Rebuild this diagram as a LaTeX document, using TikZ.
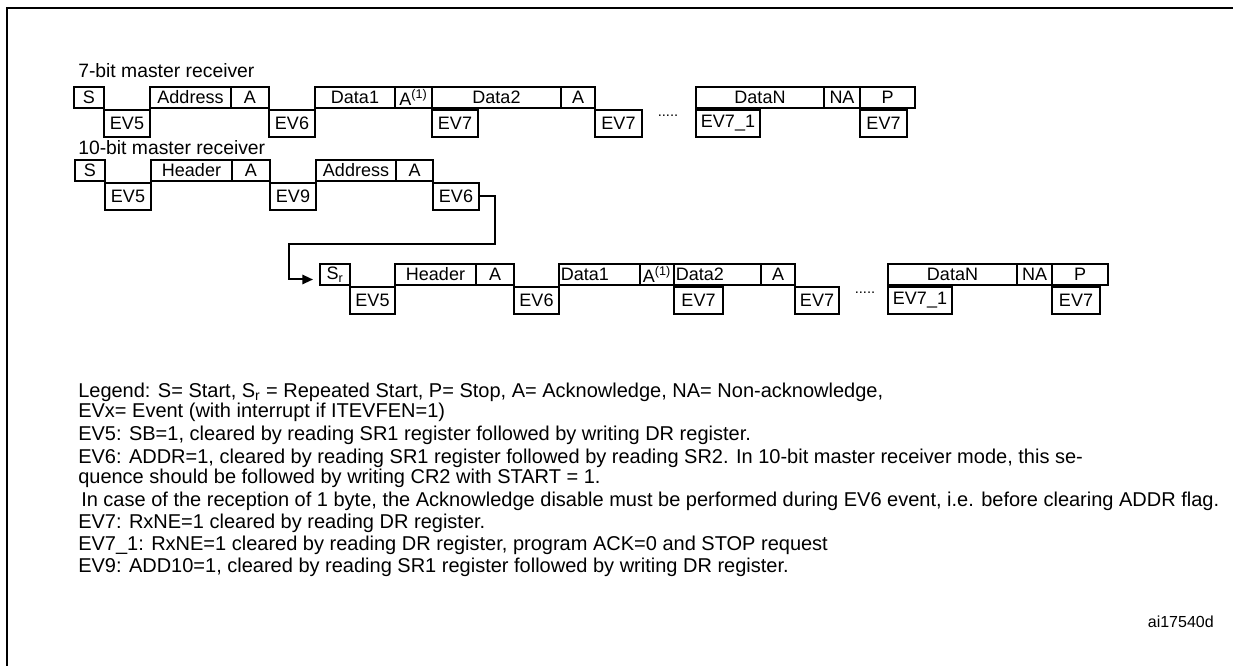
\documentclass[tikz,border=0pt]{standalone}
\usepackage{fontspec}
\setmainfont{Liberation Sans}
\usetikzlibrary{arrows.meta,positioning}

\begin{document}
\begin{tikzpicture}[
      x=0.75pt, y=-0.75pt,
      cell/.style={draw, line width=1.5pt, inner sep=0pt, font=\fontsize{13.5}{15}\selectfont},
      hicell/.style={cell, anchor=south west, minimum height=15.75pt},
      locell/.style={cell, anchor=north west, minimum height=20.25pt},
      wd/.style={minimum width=#1*0.75pt},
      lefttext/.style={label={[anchor=west, inner sep=2pt, font=\fontsize{13.5}{15}\selectfont]west:#1}},
      caption/.style={anchor=west, inner sep=0pt, font=\fontsize{14.5}{16}\selectfont},
      legend/.style={anchor=west, inner sep=0pt, font=\fontsize{15}{17}\selectfont},
      dots/.style={inner sep=0pt, font=\fontsize{11}{12}\selectfont},
      link/.style={line width=1.5pt, -{Triangle[length=8pt, width=7pt]}}
    ]
    \useasboundingbox (0,0) rectangle (1233,666);
    % frame
    \draw[line width=2.2pt] (6,8) -- (1233,8);
    \draw[line width=1.1pt] (7,8) -- (7,666);

    % 7-bit master receiver
    \node[caption] (cap7) at (78,71) {7-bit master receiver};
    \node[hicell, wd=30]  (s7)    at (73,109)  {S};
    \node[locell, wd=46]  (ev5a)  at (103,109) {EV5};
    \node[hicell, wd=81]  (adr7)  at (149,109) {Address};
    \node[hicell, wd=38]  (ack7a) at (230,109) {A};
    \node[locell, wd=46]  (ev6a)  at (268,109) {EV6};
    \node[hicell, wd=80]  (d1a)   at (314,109) {Data1};
    \node[hicell, wd=37]  (ack7b) at (394,109) {A\textsuperscript{(1)}};
    \node[hicell, wd=129] (d2a)   at (431,109) {Data2};
    \node[locell, wd=46]  (ev7a)  at (431,109) {EV7};
    \node[hicell, wd=34]  (ack7c) at (560,109) {A};
    \node[locell, wd=47]  (ev7b)  at (594,109) {EV7};
    \node[dots]           (gap7)  at (668,116) {.....};
    \node[hicell, wd=128] (dna)   at (695,109) {DataN};
    \node[locell, wd=64]  (ev71a) at (695,109) {EV7\_1};
    \node[hicell, wd=36]  (na7)   at (823,109) {NA};
    \node[hicell, wd=55]  (p7)    at (859,109) {P};
    \node[locell, wd=47]  (ev7c)  at (859,109) {EV7};

    % 10-bit master receiver, first part
    \node[caption] (cap10) at (78,148) {10-bit master receiver};
    \node[hicell, wd=30]  (s10)    at (74,182)  {S};
    \node[locell, wd=46]  (ev5b)   at (104,182) {EV5};
    \node[hicell, wd=81]  (hdr10a) at (150,182) {Header};
    \node[hicell, wd=38]  (ack10a) at (231,182) {A};
    \node[locell, wd=46]  (ev9)    at (269,182) {EV9};
    \node[hicell, wd=80]  (adr10)  at (315,182) {Address};
    \node[hicell, wd=37]  (ack10b) at (395,182) {A};
    \node[locell, wd=46]  (ev6b)   at (432,182) {EV6};

    % 10-bit master receiver, after repeated start
    \node[hicell, wd=30]  (sr)     at (319,286) {S\textsubscript{r}};
    \node[locell, wd=45]  (ev5c)   at (349,286) {EV5};
    \node[hicell, wd=81]  (hdr10b) at (394,286) {Header};
    \node[hicell, wd=38]  (ack10c) at (475,286) {A};
    \node[locell, wd=45]  (ev6c)   at (513,286) {EV6};
    \node[hicell, wd=81, lefttext=Data1] (d1b) at (558,286) {};
    \node[hicell, wd=34]  (ack10d) at (639,286) {A\textsuperscript{(1)}};
    \node[hicell, wd=87, lefttext=Data2] (d2b) at (673,286) {};
    \node[locell, wd=49]  (ev7d)   at (673,286) {EV7};
    \node[hicell, wd=34]  (ack10e) at (760,286) {A};
    \node[locell, wd=44]  (ev7e)   at (794,286) {EV7};
    \node[dots]           (gap10)  at (865,293) {.....};
    \node[hicell, wd=129] (dnb)    at (887,286) {DataN};
    \node[locell, wd=64]  (ev71b)  at (887,286) {EV7\_1};
    \node[hicell, wd=35]  (na10)   at (1016,286) {NA};
    \node[hicell, wd=56]  (p10)    at (1051,286) {P};
    \node[locell, wd=48]  (ev7f)   at (1051,286) {EV7};

    % repeated start link
    \coordinate (turnR) at (495,244);
    \coordinate (turnL) at (289,244);
    \draw[link] (ev6b.east) -| (turnR) -- (turnL) |- ([shift={(-6,5)}]sr.west);

    % legend
    \node[legend] (lg1) at (78,392) {Legend: S= Start, S\textsubscript{r} = Repeated Start, P= Stop, A= Acknowledge, NA= Non-acknowledge,};
    \node[legend] (lg2) at (78,412) {EVx= Event (with interrupt if ITEVFEN=1)};
    \node[legend] (lg3) at (78,435) {EV5: SB=1, cleared by reading SR1 register followed by writing DR register.};
    \node[legend] (lg4) at (78,458) {EV6: ADDR=1, cleared by reading SR1 register followed by reading SR2. In 10-bit master receiver mode, this se-};
    \node[legend] (lg5) at (78,478) {quence should be followed by writing CR2 with START = 1.};
    \node[legend] (lg6) at (81,501) {In case of the reception of 1 byte, the Acknowledge disable must be performed during EV6 event, i.e. before clearing ADDR flag.};
    \node[legend] (lg7) at (78,523) {EV7: RxNE=1 cleared by reading DR register.};
    \node[legend] (lg8) at (78,545) {EV7\_1: RxNE=1 cleared by reading DR register, program ACK=0 and STOP request};
    \node[legend] (lg9) at (78,567) {EV9: ADD10=1, cleared by reading SR1 register followed by writing DR register.};
    \node[anchor=east, inner sep=0pt, font=\fontsize{12}{14}\selectfont] (ref) at (1214,622) {ai17540d};
  \end{tikzpicture}
\end{document}
